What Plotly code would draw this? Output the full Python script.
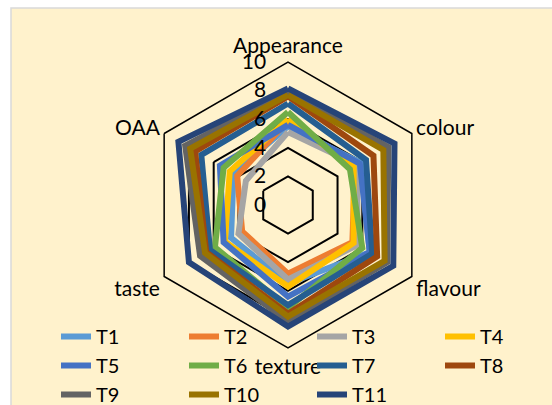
import plotly.graph_objects as go

categories = ["Appearance", "colour", "flavour", "texture", "taste", "OAA"]
series_names = ["T1", "T2", "T3", "T4", "T5", "T6", "T7", "T8", "T9", "T10", "T11"]

T1 = [5.5, 5.9, 6.6, 5.5, 4.6, 4.4]
T2 = [5.9, 5.4, 5.2, 4.8, 3.7, 4.1]
T3 = [5.1, 5.6, 5.6, 5.2, 4.0, 3.4]
T4 = [6.0, 5.3, 5.3, 5.7, 5.1, 4.7]
T5 = [5.6, 5.8, 6.6, 6.4, 5.2, 5.5]
T6 = [6.5, 5.0, 6.0, 7.2, 5.9, 5.2]
T7 = [7.1, 6.3, 6.8, 7.0, 6.3, 7.0]
T8 = [7.6, 6.9, 7.2, 7.6, 6.6, 7.5]
T9 = [7.9, 8.1, 8.0, 8.15, 7.1, 8.3]
T10 = [7.7, 7.7, 7.8, 7.8, 6.7, 7.9]
T11 = [8.15, 8.6, 8.5, 8.5, 8.0, 8.85]

series_values = [T1, T2, T3, T4, T5, T6, T7, T8, T9, T10, T11]
colors = ["#5B9BD5", "#ED7D31", "#A5A5A5", "#FFC000", "#4472C4", "#70AD47",
          "#255E91", "#9E480E", "#636363", "#997300", "#264478"]

tick_vals = [0, 2, 4, 6, 8, 10]
tick_text = ["0", "2", "4", "6", "8", "10"]

FONT = "Lato"

fig = go.Figure()
for name, vals, col in zip(series_names, series_values, colors):
    fig.add_trace(go.Scatterpolar(
        r=vals + vals[:1],
        theta=categories + categories[:1],
        mode="lines",
        name=name,
        line=dict(color=col, width=6),
    ))

W, H = 552, 405
cx, cy, R = 288, 205, 143

fig.update_layout(
    width=W, height=H,
    margin=dict(l=0, r=0, t=0, b=0, autoexpand=False),
    paper_bgcolor="white",
    font=dict(family=FONT, size=21, color="#000000"),
    shapes=[dict(type="rect", xref="paper", yref="paper",
                 x0=11 / W, x1=1.02, y0=-0.02, y1=1 - 8 / H,
                 fillcolor="#FFF2CC", line=dict(color="#D9D9D9", width=1.5),
                 layer="below")],
    polar=dict(
        domain=dict(x=[(cx - R) / W, (cx + R) / W],
                    y=[(H - cy - R) / H, (H - cy + R) / H]),
        bgcolor="rgba(0,0,0,0)",
        gridshape="linear",
        angularaxis=dict(
            direction="clockwise", rotation=90,
            showgrid=False, showline=True, linecolor="black", linewidth=1.5,
            ticks="", tickfont=dict(family=FONT, size=21, color="#000"),
        ),
        radialaxis=dict(
            range=[0, 10], tickvals=tick_vals, ticktext=tick_text,
            angle=90, side="counterclockwise",
            showline=False, gridcolor="black", gridwidth=1.5,
            ticks="outside", ticklen=14, tickcolor="rgba(0,0,0,0)",
            tickfont=dict(family=FONT, size=21, color="#000"),
            tickangle=90,
        ),
    ),
    legend=dict(
        orientation="h", x=56 / W, xanchor="left", y=1 - 317 / H, yanchor="top",
        bgcolor="rgba(0,0,0,0)", entrywidth=83, entrywidthmode="pixels",
        font=dict(family=FONT, size=20, color="#000"),
        traceorder="normal",
    ),
)

fig.write_html(
    "out.html", config={"displayModeBar": False},
    post_script="document.body.style.margin='0px';"
                "document.body.style.overflow='hidden';"
                "document.documentElement.style.overflow='hidden';",
)
